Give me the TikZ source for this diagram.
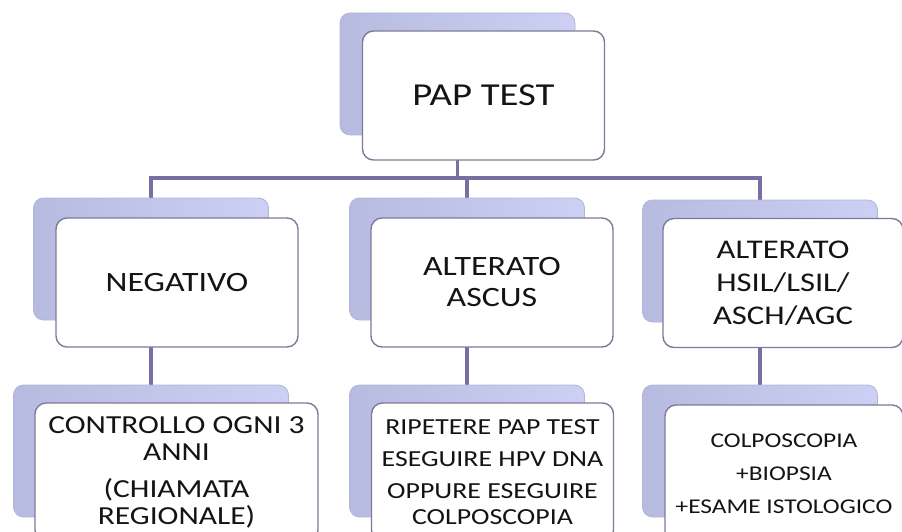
\documentclass[tikz,border=0pt]{standalone}
\usepackage{fontspec}
\setmainfont{Carlito}[FakeStretch=1.21]
\usepackage{tikz}
\usetikzlibrary{backgrounds}

\definecolor{linkc}{RGB}{120,110,162}
\definecolor{edgec}{RGB}{128,120,152}
\definecolor{backc}{RGB}{204,208,244}
\definecolor{backd}{RGB}{184,187,224}

\begin{document}
\begin{tikzpicture}[x=1pt,y=-1pt,
	card/.style={rectangle,rounded corners=11pt,draw=edgec,line width=1.4pt,fill=white,
		minimum width=242pt,minimum height=129pt,inner sep=0pt,align=center,text=black!92},
	cardback/.style={rectangle,rounded corners=10pt,draw=backd!90!gray,line width=0.8pt,
		left color=backd,right color=backc,minimum width=235pt,minimum height=122pt,inner sep=0pt},
	link/.style={draw=linkc,line width=3.6pt}]
	\useasboundingbox (0,0) rectangle (902,532);
	\coordinate (bus) at (0,178);
	% top
	\node[cardback] (pap-bk) at (457.5,74) {};
	\node[card,font=\fontsize{32}{38}\selectfont] (pap) at (483.5,95.5) {PAP TEST};
	% second row
	\node[cardback] (neg-bk) at (151,259) {};
	\node[card,font=\fontsize{28}{32}\selectfont] (neg) at (177,282.5) {NEGATIVO};
	\node[cardback] (ascus-bk) at (467,259) {};
	\node[card,font=\fontsize{28}{31}\selectfont] (ascus) at (492,282.5) {ALTERATO\\ASCUS};
	\node[cardback] (hsil-bk) at (760,261) {};
	\node[card,minimum width=240pt,font=\fontsize{27}{33}\selectfont] (hsil) at (783,283) {ALTERATO\\HSIL/LSIL/\\ASCH/AGC};
	% third row
	\node[cardback,minimum width=275pt,minimum height=132pt] (ctrl-bk) at (151,451) {};
	\node[card,minimum width=283pt,minimum height=138pt,font=\fontsize{26}{27}\selectfont] (ctrl) at (176.5,472)
		{CONTROLLO OGNI 3\\ANNI\\[10pt](CHIAMATA\\REGIONALE)};
	\node[cardback,minimum height=132pt] (rip-bk) at (467,451) {};
	\node[card,minimum height=138pt,font=\fontsize{23}{32}\selectfont] (rip) at (492.5,472)
		{RIPETERE PAP TEST\\ESEGUIRE HPV DNA\\OPPURE ESEGUIRE\\[-6pt]COLPOSCOPIA};
	\node[cardback,minimum height=132pt] (colpo-bk) at (760,451) {};
	\node[card,minimum width=238pt,minimum height=138pt,font=\fontsize{21}{33}\selectfont] (colpo) at (784,474)
		{COLPOSCOPIA\\+BIOPSIA\\+ESAME ISTOLOGICO};
	\begin{scope}[on background layer]
	\draw[link] (pap-bk.center) -- (pap-bk |- bus);
	\draw[link] (neg-bk.center) -- (neg-bk |- bus) -- (hsil-bk |- bus) -- (hsil-bk.center);
	\draw[link] (ascus-bk.center) -- (ascus-bk |- bus);
	\draw[link] (neg-bk.center) -- (ctrl-bk.center);
	\draw[link] (ascus-bk.center) -- (rip-bk.center);
	\draw[link] (hsil-bk.center) -- (colpo-bk.center);
	\end{scope}
\end{tikzpicture}
\end{document}
